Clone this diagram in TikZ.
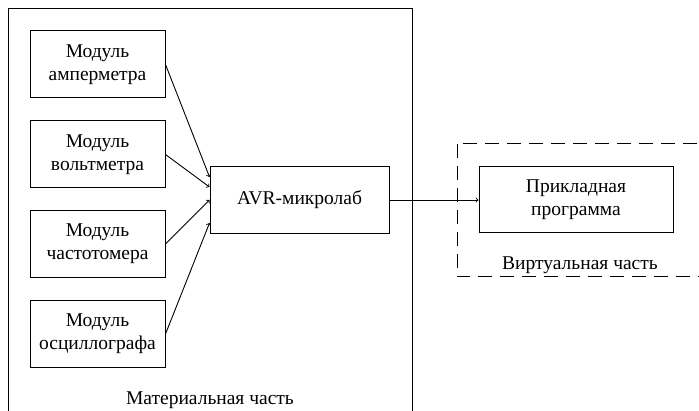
\documentclass[tikz,border=0pt]{standalone}
\usepackage{fontspec}
\setmainfont{Liberation Serif}
\begin{document}
\begin{tikzpicture}[x=1pt,y=-1pt,line width=1pt,
  modbox/.style={draw,minimum width=135pt,minimum height=67pt,inner sep=0pt,align=center,font=\fontsize{19.5}{23}\selectfont},
  txt/.style={font=\fontsize{19.5}{23}\selectfont,inner sep=0pt},
  link/.style={->,line width=0.9pt}]
  \clip (0,0) rectangle (699,411);
  % frames of the two parts
  \draw (8,9) rectangle (412,440);
  \draw[dash pattern=on 14pt off 8pt] (457,144) rectangle (730,277);
  \node[txt] (mat) at (210,400) {Материальная часть};
  \node[txt] (virt) at (580,265) {Виртуальная часть};
  % modules
  \node[modbox] (amp) at (97.5,64.5) {Модуль\\амперметра};
  \node[modbox] (volt) at (97.5,154.5) {Модуль\\вольтметра};
  \node[modbox] (freq) at (97.5,244) {Модуль\\частотомера};
  \node[modbox] (osc) at (97.5,334) {Модуль\\осциллографа};
  \node[modbox,minimum width=179pt] (avr) at (299.5,200) {AVR-микролаб};
  \node[modbox,minimum width=194pt,minimum height=66pt] (app) at (576,200) {Прикладная\\программа};
  % connections
  \draw[link] (amp.east) -- ([yshift=23pt]avr.west);
  \draw[link] (volt.east) -- ([yshift=13pt]avr.west);
  \draw[link] (freq.east) -- (avr.west);
  \draw[link] (osc.east) -- ([yshift=-23pt]avr.west);
  \draw[link] (avr.east) -- (app.west);
\end{tikzpicture}
\end{document}
